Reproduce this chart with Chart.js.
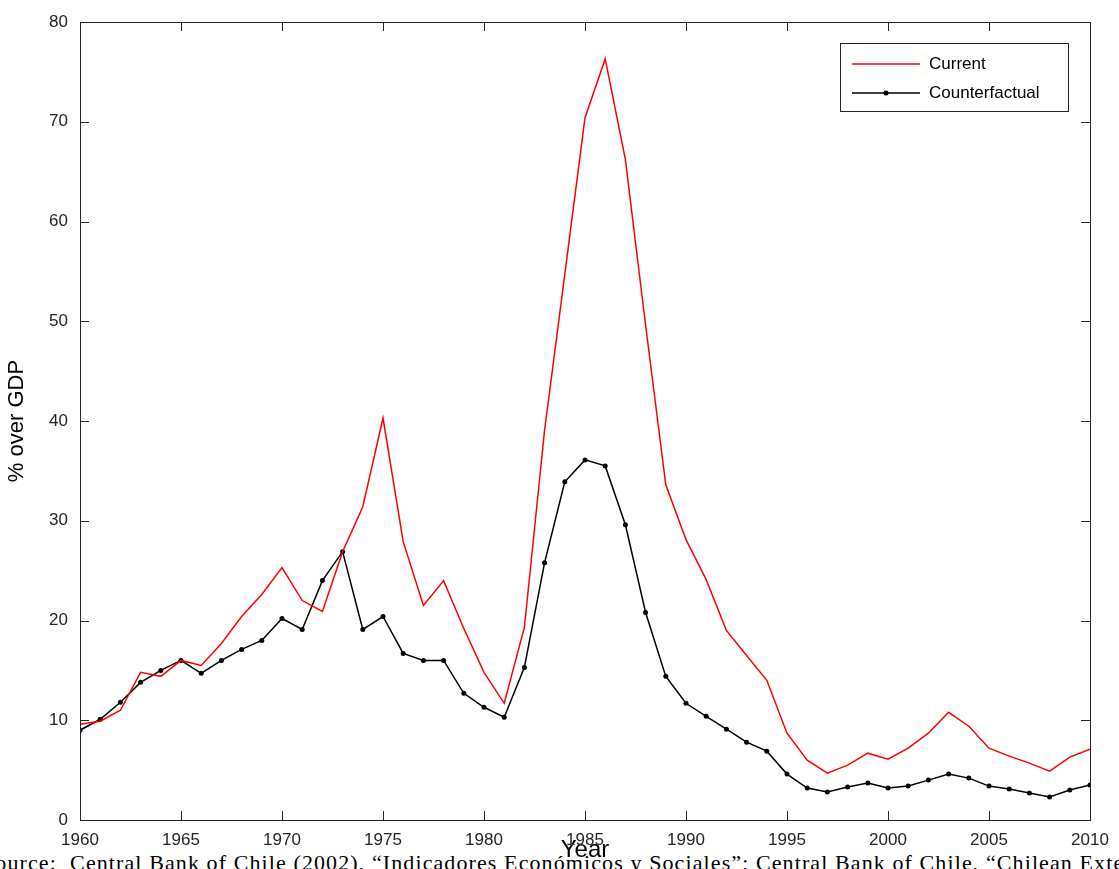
<!DOCTYPE html>
<html>
<head>
<meta charset="utf-8">
<script src="https://cdn.jsdelivr.net/npm/chart.js@4"></script>
<style>
  html, body { margin: 0; padding: 0; background: #fff; overflow: hidden; }
  #wrap { position: relative; width: 1119px; height: 869px; overflow: hidden; }
  #src { position: absolute; left: -18px; top: 850px; white-space: nowrap; letter-spacing: 1.1px;
         font-family: "Liberation Serif", serif; font-size: 22px; color: #000; }
</style>
</head>
<body>
<div id="wrap">
  <div id="src">Source: &nbsp;Central Bank of Chile (2002), “Indicadores Económicos y Sociales”; Central Bank of Chile, “Chilean External Debt”</div>
  <canvas id="c" width="1119" height="869" style="position:absolute;left:0;top:0"></canvas>
</div>
<script>
const years = [];
for (let y = 1960; y <= 2010; y++) years.push(y);

const current = [9.6, 9.9, 11.0, 14.8, 14.4, 16.0, 15.5, 17.7, 20.4, 22.6,
  25.3, 22.0, 20.9, 26.9, 31.4, 40.3, 27.9, 21.5, 24.0, 19.2,
  14.8, 11.7, 19.3, 39.1, 54.7, 70.4, 76.3, 66.2, 49.6, 33.6,
  28.1, 24.1, 19.0, 16.5, 14.0, 8.7, 6.0, 4.7, 5.5, 6.7,
  6.1, 7.2, 8.7, 10.8, 9.4, 7.2, 6.4, 5.7, 4.9, 6.3, 7.1];

const counterfactual = [9.0, 10.1, 11.8, 13.8, 15.0, 16.0, 14.7, 16.0, 17.1, 18.0,
  20.2, 19.1, 24.0, 26.9, 19.1, 20.4, 16.7, 16.0, 16.0, 12.7,
  11.3, 10.3, 15.3, 25.8, 33.9, 36.1, 35.5, 29.6, 20.8, 14.4,
  11.7, 10.4, 9.1, 7.8, 6.9, 4.6, 3.2, 2.8, 3.3, 3.7,
  3.2, 3.4, 4.0, 4.6, 4.2, 3.4, 3.1, 2.7, 2.3, 3.0, 3.5];

const toXY = (arr) => arr.map((v, i) => ({ x: years[i], y: v }));
const FONT = "'Liberation Sans', Arial, sans-serif";

// MATLAB-style box with inward ticks on all sides, plus legend
const boxTicks = {
  id: "boxTicks",
  afterDraw(chart) {
    const { ctx, chartArea: a, scales } = chart;
    ctx.save();
    ctx.strokeStyle = "#262626";
    ctx.lineWidth = 1;
    ctx.strokeRect(a.left + 0.5, a.top + 0.5, a.right - a.left, a.bottom - a.top);
    const L = 9;
    ctx.beginPath();
    scales.x.ticks.forEach(t => {
      const px = Math.round(scales.x.getPixelForValue(t.value)) + 0.5;
      ctx.moveTo(px, a.bottom); ctx.lineTo(px, a.bottom - L);
      ctx.moveTo(px, a.top); ctx.lineTo(px, a.top + L);
    });
    scales.y.ticks.forEach(t => {
      const py = Math.round(scales.y.getPixelForValue(t.value)) + 0.5;
      ctx.moveTo(a.left, py); ctx.lineTo(a.left + L, py);
      ctx.moveTo(a.right, py); ctx.lineTo(a.right - L, py);
    });
    ctx.stroke();

    const lx = 840, ly = 43, lw = 228, lh = 68;
    ctx.fillStyle = "#fff";
    ctx.fillRect(lx, ly, lw, lh);
    ctx.strokeRect(lx + 0.5, ly + 0.5, lw, lh);
    ctx.font = "17px " + FONT;
    ctx.textBaseline = "middle";
    chart.data.datasets.forEach((ds, i) => {
      const y = ly + 21 + i * 29;
      ctx.strokeStyle = ds.borderColor;
      ctx.lineWidth = 1.5;
      ctx.beginPath(); ctx.moveTo(lx + 12, y); ctx.lineTo(lx + 80, y); ctx.stroke();
      if (ds.pointRadius > 0) {
        ctx.fillStyle = ds.borderColor;
        ctx.beginPath(); ctx.arc(lx + 46, y, 2.5, 0, Math.PI * 2); ctx.fill();
      }
      ctx.fillStyle = "#000";
      ctx.fillText(ds.label, lx + 89, y);
    });
    ctx.restore();
  }
};

new Chart(document.getElementById("c"), {
  type: "line",
  data: {
    datasets: [
      { label: "Current", data: toXY(current), borderColor: "#ff0000",
        borderWidth: 1.5, pointRadius: 0, tension: 0 },
      { label: "Counterfactual", data: toXY(counterfactual), borderColor: "#000000",
        backgroundColor: "#000000", borderWidth: 1.5, pointRadius: 2.5,
        pointBorderWidth: 0, tension: 0 },
    ],
  },
  options: {
    responsive: false,
    animation: false,
    layout: { padding: { top: 22, right: 29, left: 0, bottom: 0 } },
    plugins: { legend: { display: false }, tooltip: { enabled: false } },
    scales: {
      x: {
        type: "linear", min: 1960, max: 2010,
        ticks: { stepSize: 5, color: "#262626", font: { family: FONT, size: 17 },
                 padding: 2, maxRotation: 0, callback: v => String(v) },
        grid: { display: false },
        border: { display: false },
        title: { display: true, text: "Year", color: "#000",
                 font: { family: FONT, size: 24 }, padding: { top: 16 } },
        afterFit: s => { s.height = 49; },
      },
      y: {
        min: 0, max: 80,
        ticks: { stepSize: 10, color: "#262626", font: { family: FONT, size: 17 }, padding: 4 },
        grid: { display: false },
        border: { display: false },
        title: { display: true, text: "% over GDP", color: "#000",
                 font: { family: FONT, size: 22 } },
        afterFit: s => { s.width = 80; },
      },
    },
  },
  plugins: [boxTicks],
});
</script>
</body>
</html>
